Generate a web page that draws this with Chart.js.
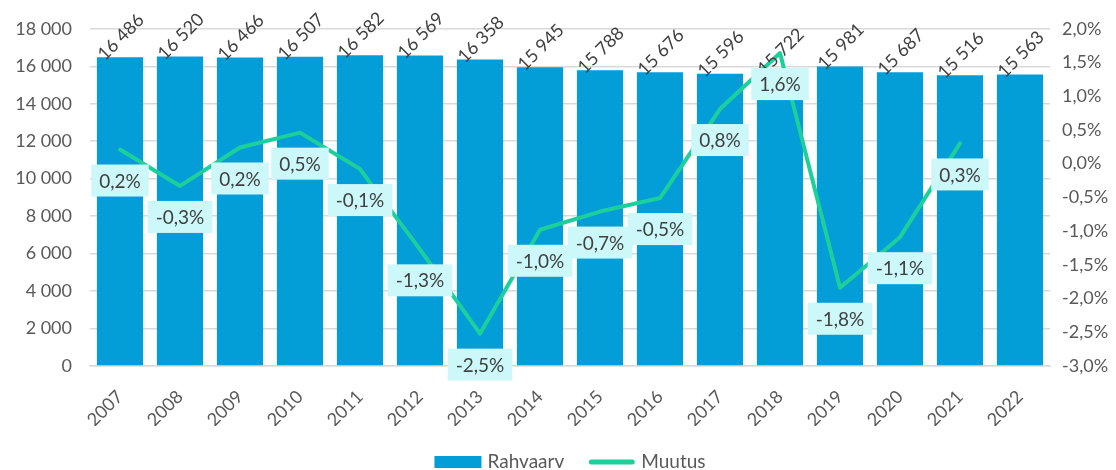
<!DOCTYPE html>
<html lang="et">
  <head>
    <meta charset="UTF-8" />
    <title>Rahvaarv ja muutus</title>
    <script src="https://cdn.jsdelivr.net/npm/chart.js"></script>
    <style>
      body {
        margin: 0;
        background: #ffffff;
      }
      #wrap {
        width: 1116px;
        height: 470px;
      }
    </style>
  </head>
  <body>
    <div id="wrap"><canvas id="chart" width="1116" height="470"></canvas></div>

    <script>
      // andmed
      const years = ['2007', '2008', '2009', '2010', '2011', '2012', '2013', '2014', '2015', '2016', '2017', '2018', '2019', '2020', '2021', '2022']
      const population = [16486, 16520, 16466, 16507, 16582, 16569, 16358, 15945, 15788, 15676, 15596, 15722, 15981, 15687, 15516, 15563]
      const change = [0.21, -0.33, 0.24, 0.46, -0.08, -1.27, -2.52, -0.98, -0.71, -0.51, 0.81, 1.64, -1.84, -1.09, 0.3, null]

      const FONT = 'Lato, "Open Sans", sans-serif'
      const TEXT = '#595959'
      const BAR = '#039DD8'
      const LINE = '#1CCF9B'

      const fmtThousands = (v) => String(v).replace(/\B(?=(\d{3})+(?!\d))/g, ' ')
      const fmtPct = (v) => v.toFixed(1).replace('.', ',') + '%'

      // sildid tulpade ja joone kohal + legend
      const valueLabels = {
        id: 'valueLabels',
        afterDatasetsDraw(chart) {
          const ctx = chart.ctx
          ctx.save()
          ctx.textAlign = 'center'
          ctx.textBaseline = 'middle'

          ctx.font = '18px ' + FONT
          ctx.fillStyle = '#404040'
          chart.getDatasetMeta(0).data.forEach((bar, i) => {
            ctx.save()
            ctx.translate(bar.x + 1, bar.y - 20)
            ctx.rotate(-Math.PI / 4)
            ctx.fillText(fmtThousands(population[i]), 0, 0)
            ctx.restore()
          })

          ctx.font = '19px ' + FONT
          chart.getDatasetMeta(1).data.forEach((pt, i) => {
            if (change[i] == null || isNaN(pt.y)) return
            const text = fmtPct(change[i])
            const w = ctx.measureText(text).width + 16
            const h = 32
            const cx = pt.x
            const cy = pt.y + 31
            ctx.fillStyle = '#CCF8FA'
            ctx.fillRect(cx - w / 2, cy - h / 2, w, h)
            ctx.fillStyle = '#404040'
            ctx.fillText(text, cx, cy + 1)
          })
          ctx.restore()
        },
        afterDraw(chart) {
          // legend nagu Excelis, keskel joonise ala all
          const ctx = chart.ctx
          ctx.save()
          ctx.font = '19px ' + FONT
          ctx.textBaseline = 'middle'
          ctx.textAlign = 'left'
          const boxW = 47
          const gap = 6
          const itemGap = 24
          const items = chart.data.datasets.map((ds) => ({ ds, w: boxW + gap + ctx.measureText(ds.label).width }))
          const total = items.reduce((s, it) => s + it.w, 0) + itemGap * (items.length - 1)
          let x = (chart.chartArea.left + chart.chartArea.right) / 2 - total / 2
          const y = chart.height - 8
          items.forEach((it) => {
            if (it.ds.type === 'bar') {
              ctx.fillStyle = BAR
              ctx.fillRect(x, y - 6, boxW, 12)
            } else {
              ctx.strokeStyle = LINE
              ctx.lineWidth = 5
              ctx.lineCap = 'round'
              ctx.beginPath()
              ctx.moveTo(x + 3, y)
              ctx.lineTo(x + boxW - 3, y)
              ctx.stroke()
            }
            ctx.fillStyle = TEXT
            ctx.fillText(it.ds.label, x + boxW + gap, y)
            x += it.w + itemGap
          })
          ctx.restore()
        },
      }

      new Chart(document.getElementById('chart'), {
        data: {
          labels: years,
          datasets: [
            {
              type: 'bar',
              label: 'Rahvaarv',
              data: population,
              backgroundColor: BAR,
              borderWidth: 0,
              yAxisID: 'y',
              order: 1,
              barPercentage: 0.77,
              categoryPercentage: 1,
            },
            {
              type: 'line',
              label: 'Muutus',
              data: change,
              borderColor: LINE,
              backgroundColor: LINE,
              borderWidth: 4,
              borderJoinStyle: 'round',
              borderCapStyle: 'round',
              pointRadius: 0,
              tension: 0,
              fill: false,
              yAxisID: 'y1',
              order: 0,
            },
          ],
        },
        options: {
          responsive: false,
          animation: false,
          layout: { padding: { top: 27, right: 0, left: 0, bottom: 44 } },
          plugins: {
            tooltip: { enabled: false },
            legend: { display: false },
          },
          scales: {
            x: {
              grid: { display: false },
              border: { color: '#D9D9D9', width: 1.5 },
              ticks: {
                color: TEXT,
                font: { family: FONT, size: 18 },
                minRotation: 45,
                maxRotation: 45,
                padding: 12,
              },
              afterFit: (scale) => {
                scale.height = 60
              },
            },
            y: {
              position: 'left',
              min: 0,
              max: 18000,
              grid: { color: '#D9D9D9', lineWidth: 1.5, drawTicks: false },
              border: { display: false },
              ticks: {
                stepSize: 2000,
                color: TEXT,
                padding: 18,
                font: { family: FONT, size: 18 },
                callback: (v) => fmtThousands(v),
              },
              afterFit: (scale) => {
                scale.width = 90
              },
            },
            y1: {
              position: 'right',
              min: -3,
              max: 2,
              grid: { display: false, drawTicks: false },
              border: { display: false },
              ticks: {
                stepSize: 0.5,
                color: TEXT,
                padding: 12,
                font: { family: FONT, size: 18 },
                callback: (v) => fmtPct(v),
              },
              afterFit: (scale) => {
                scale.width = 66
              },
            },
          },
        },
        plugins: [valueLabels],
      })
    </script>
  </body>
</html>
